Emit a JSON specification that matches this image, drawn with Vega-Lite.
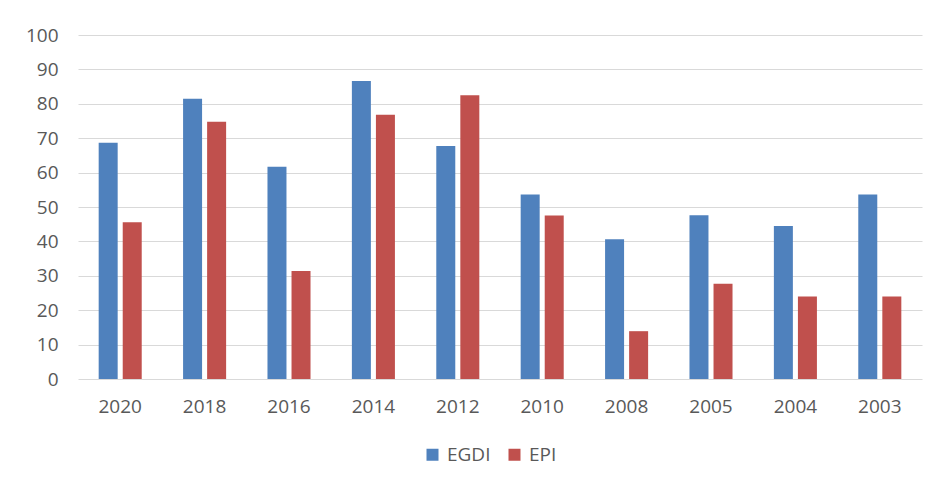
{
  "$schema": "https://vega.github.io/schema/vega-lite/v6.json",
  "width": 844,
  "height": 344,
  "autosize": {"type": "none"},
  "padding": {"left": 78, "top": 35, "right": 15, "bottom": 105},
  "background": "white",
  "config": {
    "view": {"stroke": null},
    "font": "Open Sans",
    "axis": {"labelFont": "Open Sans", "labelColor": "#595959", "labelFontSize": 19}
  },
  "data": {
    "values": [
      {"year": "2020", "index": "EGDI", "value": 68.7},
      {"year": "2020", "index": "EPI", "value": 45.6},
      {"year": "2018", "index": "EGDI", "value": 81.5},
      {"year": "2018", "index": "EPI", "value": 74.8},
      {"year": "2016", "index": "EGDI", "value": 61.7},
      {"year": "2016", "index": "EPI", "value": 31.4},
      {"year": "2014", "index": "EGDI", "value": 86.6},
      {"year": "2014", "index": "EPI", "value": 76.8},
      {"year": "2012", "index": "EGDI", "value": 67.7},
      {"year": "2012", "index": "EPI", "value": 82.5},
      {"year": "2010", "index": "EGDI", "value": 53.6},
      {"year": "2010", "index": "EPI", "value": 47.5},
      {"year": "2008", "index": "EGDI", "value": 40.6},
      {"year": "2008", "index": "EPI", "value": 13.9},
      {"year": "2005", "index": "EGDI", "value": 47.6},
      {"year": "2005", "index": "EPI", "value": 27.7},
      {"year": "2004", "index": "EGDI", "value": 44.5},
      {"year": "2004", "index": "EPI", "value": 24.0},
      {"year": "2003", "index": "EGDI", "value": 53.6},
      {"year": "2003", "index": "EPI", "value": 24.0}
    ]
  },
  "mark": {"type": "bar"},
  "encoding": {
    "x": {
      "field": "year",
      "type": "nominal",
      "sort": null,
      "scale": {"paddingInner": 0.49, "paddingOuter": 0.245},
      "axis": {"title": null, "domain": false, "ticks": false, "labelAngle": 0, "labelPadding": 18, "grid": false}
    },
    "xOffset": {
      "field": "index",
      "type": "nominal",
      "scale": {"paddingInner": 0.21, "paddingOuter": 0}
    },
    "y": {
      "field": "value",
      "type": "quantitative",
      "scale": {"domain": [0, 100], "nice": false},
      "axis": {"title": null, "domain": false, "ticks": false, "values": [0,10,20,30,40,50,60,70,80,90,100], "labelPadding": 20, "gridColor": "#d9d9d9", "gridWidth": 1}
    },
    "color": {
      "field": "index",
      "type": "nominal",
      "scale": {"domain": ["EGDI", "EPI"], "range": ["#4F81BD", "#C0504D"]},
      "legend": {
        "title": null,
        "orient": "none",
        "direction": "horizontal",
        "legendX": 345,
        "legendY": 410,
        "symbolType": "square",
        "symbolSize": 144,
        "symbolStrokeWidth": 0,
        "labelFontSize": 19,
        "labelColor": "#595959",
        "labelFont": "Open Sans",
        "labelOffset": 5,
        "columnPadding": 14
      }
    }
  }
}
